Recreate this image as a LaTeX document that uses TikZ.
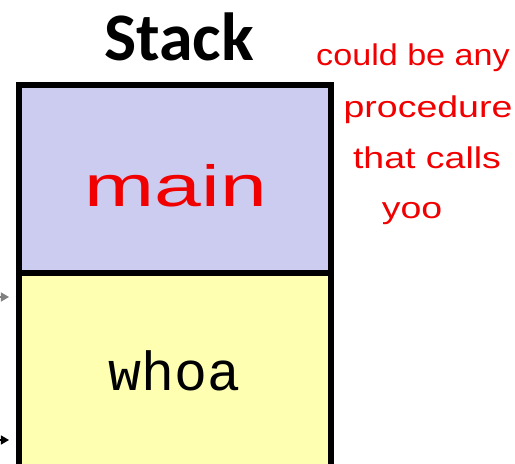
\documentclass[tikz,border=0pt]{standalone}
\usepackage{fontspec}
\setmainfont{Liberation Sans}
\newfontfamily\titlefont{Carlito}
\newfontfamily\codefont{Liberation Mono}
\usetikzlibrary{arrows.meta}
\definecolor{mainfill}{HTML}{CCCCF0}
\definecolor{whoafill}{HTML}{FFFFB2}
\definecolor{inkred}{HTML}{F00000}
\definecolor{arrgray}{HTML}{808080}
\begin{document}
\begin{tikzpicture}[x=1pt,y=-1pt,
  frame/.style={draw=black,line width=6pt},
  note/.style={text=inkred,font=\fontsize{30}{34}\selectfont,inner sep=0pt,xscale=1.25},
  ptr/.style={-{Triangle[length=8pt,width=9pt]},line width=1.2pt}]
\useasboundingbox (0,0) rectangle (515,464);
\clip (0,0) rectangle (515,464);
\node[font=\titlefont\bfseries\fontsize{68}{72}\selectfont,inner sep=0pt] (title) at (179,37) {Stack};
\path[fill=mainfill] (19,85) rectangle (331,273);
\path[fill=whoafill] (19,273) rectangle (331,480);
\draw[frame] (19,480) -- (19,85) -- (331,85) -- (331,480);
\draw[frame] (19,273) -- (331,273);
\node[text=inkred,font=\fontsize{58}{62}\selectfont,inner sep=0pt,xscale=1.45] (mainlbl) at (176,186) {main};
\node[font=\codefont\fontsize{55}{60}\selectfont,inner sep=0pt] (whoalbl) at (175,371) {whoa};
\node[note,xscale=0.91] (n1) at (413,58) {could be any};
\node[note] (n2) at (428,110) {procedure};
\node[note] (n3) at (427,158) {that calls};
\node[note] (n4) at (412,214) {yoo};
\coordinate (a1s) at (-20,297);
\coordinate (a1e) at (9,297);
\coordinate (a2s) at (-20,440);
\coordinate (a2e) at (9,440);
\draw[ptr,draw=arrgray,fill=arrgray] (a1s) -- (a1e);
\draw[ptr] (a2s) -- (a2e);
\end{tikzpicture}
\end{document}
